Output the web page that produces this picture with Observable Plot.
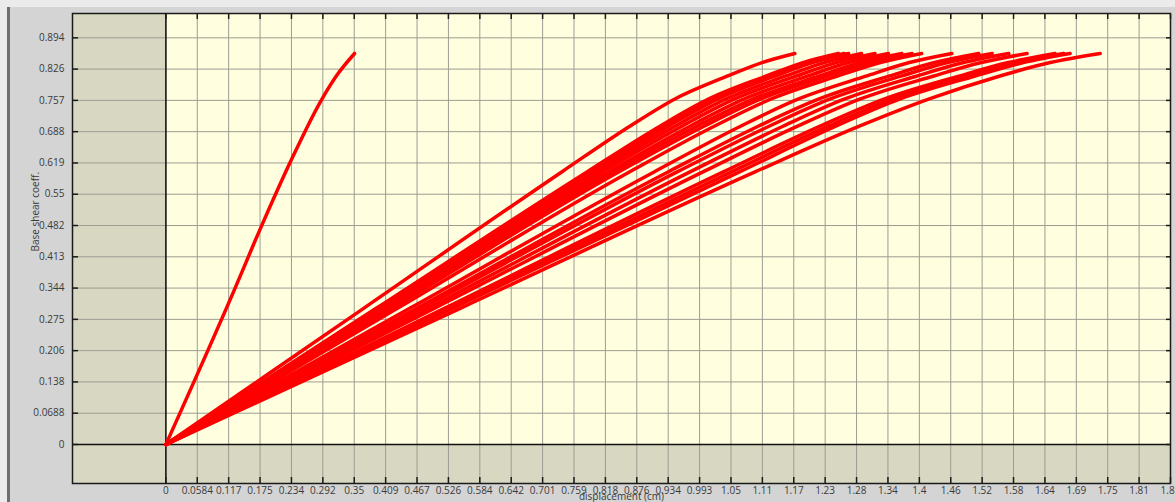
<!DOCTYPE html>
<html>
<head>
<meta charset="utf-8">
<script src="https://cdn.jsdelivr.net/npm/d3@7"></script>
<script src="https://cdn.jsdelivr.net/npm/@observablehq/plot@0.6"></script>
<style>
  html, body { margin: 0; padding: 0; background: #ebebeb; overflow: hidden; }
  #wrap { position: relative; width: 1175px; height: 502px; }
  #panel { position: absolute; left: 7px; top: 7px; right: 0; bottom: 0; background: #d4d4d4; border-left: 3px solid #6e6e6e; }
  #chart { position: absolute; left: 0; top: 0; }
</style>
</head>
<body>
<div id="wrap"><div id="panel"></div><div id="chart"></div></div>
<script>
// ---- axes ----
const xDomain = [-0.1737, 1.8688];
const yDomain = [-0.0858, 0.9479];
const xTicks = [0, 0.0584, 0.1168, 0.1752, 0.2336, 0.292, 0.3504, 0.4088, 0.4672, 0.5256, 0.584, 0.6424, 0.7008, 0.7592, 0.8176, 0.876, 0.9344, 0.9928, 1.0512, 1.1096, 1.168, 1.2264, 1.2848, 1.3432, 1.4016, 1.46, 1.5184, 1.5768, 1.6352, 1.6936, 1.752, 1.8104, 1.8688];
const xTickLabels = ["0","0.0584","0.117","0.175","0.234","0.292","0.35","0.409","0.467","0.526","0.584","0.642","0.701","0.759","0.818","0.876","0.934","0.993","1.05","1.11","1.17","1.23","1.28","1.34","1.4","1.46","1.52","1.58","1.64","1.69","1.75","1.81","1.87"];
const yTicks = [0, 0.0688, 0.1376, 0.2064, 0.2752, 0.344, 0.4128, 0.4816, 0.5504, 0.6192, 0.688, 0.7568, 0.8256, 0.8944];
const yTickLabels = ["0","0.0688","0.138","0.206","0.275","0.344","0.413","0.482","0.55","0.619","0.688","0.757","0.826","0.894"];
const xTitle = "displacement (cm)";
const yTitle = "Base shear coeff.";

// ---- steep curve ----
const steepX = [0, 0.127, 0.177, 0.233, 0.289, 0.318, 0.351];
const steepY = [0, 0.339, 0.478, 0.625, 0.757, 0.812, 0.86];

// ---- bundle of curves: shared base-shear levels, displacement per curve ----
const bundleY = [0, 0.3, 0.6, 0.70, 0.76, 0.81, 0.84, 0.86];
const run00 = [0, 0.3685, 0.737, 0.863, 0.947, 1.044, 1.109, 1.170];
const run01 = [0, 0.392, 0.784, 0.919, 1.010, 1.116, 1.185, 1.251];
const run02 = [0, 0.3945, 0.789, 0.926, 1.018, 1.125, 1.195, 1.262];
const run03 = [0, 0.399, 0.798, 0.935, 1.027, 1.133, 1.203, 1.270];
const run04 = [0, 0.4025, 0.805, 0.947, 1.042, 1.152, 1.225, 1.294];
const run05 = [0, 0.4065, 0.813, 0.960, 1.058, 1.172, 1.247, 1.319];
const run06 = [0, 0.412, 0.824, 0.975, 1.076, 1.193, 1.270, 1.344];
const run07 = [0, 0.4165, 0.833, 0.988, 1.093, 1.214, 1.293, 1.369];
const run08 = [0, 0.4215, 0.843, 1.001, 1.107, 1.230, 1.311, 1.388];
const run09 = [0, 0.4315, 0.863, 1.020, 1.126, 1.249, 1.329, 1.406];
const run10 = [0, 0.4545, 0.909, 1.069, 1.177, 1.302, 1.383, 1.462];
const run11 = [0, 0.4675, 0.935, 1.102, 1.215, 1.345, 1.430, 1.512];
const run12 = [0, 0.476, 0.952, 1.122, 1.236, 1.367, 1.454, 1.537];
const run13 = [0, 0.488, 0.976, 1.148, 1.263, 1.396, 1.484, 1.568];
const run14 = [0, 0.500, 1.000, 1.175, 1.292, 1.427, 1.517, 1.602];
const run15 = [0, 0.519, 1.038, 1.217, 1.337, 1.475, 1.567, 1.654];
const run16 = [0, 0.5265, 1.053, 1.232, 1.352, 1.491, 1.582, 1.670];
const run17 = [0, 0.534, 1.068, 1.246, 1.366, 1.504, 1.595, 1.682];
const run18 = [0, 0.5485, 1.097, 1.290, 1.420, 1.550, 1.645, 1.738];
const runs = [run00, run01, run02, run03, run04, run05, run06, run07, run08, run09, run10, run11, run12, run13, run14, run15, run16, run17, run18];

// ---- styles ----
const olive = "#d8d8c2";
const cream = "#ffffe0";
const gridColor = "#9c9c92";
const red = "#ff0000";

const xLabelMap = new Map(xTicks.map((v, i) => [v, xTickLabels[i]]));
const yLabelMap = new Map(yTicks.map((v, i) => [v, yTickLabels[i]]));

const curveRows = runs.flatMap((xs, i) => xs.map((x, j) => ({x, y: bundleY[j], id: "r" + i})))
  .concat(steepX.map((x, j) => ({x, y: steepY[j], id: "steep"})));

const chart = Plot.plot({
  width: 1175,
  height: 502,
  marginLeft: 72,
  marginRight: 5,
  marginTop: 13,
  marginBottom: 19,
  x: {domain: xDomain, axis: null},
  y: {domain: yDomain, axis: null},
  style: {background: "transparent", fontFamily: "'Open Sans', sans-serif", fontSize: "10px", color: "#3a3a3a", overflow: "visible"},
  marks: [
    Plot.frame({fill: olive}),
    Plot.rect([0], {x1: 0, x2: xDomain[1], y1: 0, y2: yDomain[1], fill: cream}),
    Plot.ruleX(xTicks, {stroke: gridColor, strokeWidth: 1}),
    Plot.ruleY(yTicks, {stroke: gridColor, strokeWidth: 1}),
    Plot.ruleX([0], {stroke: "#111", strokeWidth: 1.5}),
    Plot.ruleY([0], {stroke: "#111", strokeWidth: 1.5}),
    Plot.line(curveRows, {x: "x", y: "y", z: "id", stroke: red, strokeWidth: 3.5, curve: "monotone-x"}),
    Plot.frame({stroke: "#1a1a1a", strokeWidth: 1.5}),
    // inward ticks on all four sides
    Plot.axisY(yTicks, {anchor: "left", tickSize: 6, dx: 6, tickFormat: () => "", label: null, stroke: "#1a1a1a", strokeWidth: 1.5}),
    Plot.axisY(yTicks, {anchor: "right", tickSize: 5, dx: -5, tickFormat: () => "", label: null, stroke: "#1a1a1a", strokeWidth: 1.5}),
    Plot.axisX(xTicks, {anchor: "bottom", tickSize: 6, dy: -6, tickFormat: () => "", label: null, stroke: "#1a1a1a", strokeWidth: 1.5}),
    Plot.axisX(xTicks, {anchor: "top", tickSize: 5, dy: 5, tickFormat: () => "", label: null, stroke: "#1a1a1a", strokeWidth: 1.5}),
    // tick labels
    Plot.axisY(yTicks, {anchor: "left", tickSize: 0, tickPadding: 8, tickFormat: d => yLabelMap.get(d), label: null, fill: "#3a3a3a", fontSize: 10}),
    Plot.axisX(xTicks, {anchor: "bottom", tickSize: 0, tickPadding: 3.5, tickFormat: d => xLabelMap.get(d), label: null, fill: "#3a3a3a", fontSize: 10}),
    // titles
    Plot.text([xTitle], {frameAnchor: "bottom", dy: 13, lineAnchor: "middle", text: d => d, fill: "#3a3a3a", fontSize: 10}),
    Plot.text([yTitle], {frameAnchor: "left", dx: -37, dy: 3, rotate: -90, lineAnchor: "middle", text: d => d, fill: "#3a3a3a", fontSize: 10})
  ]
});
document.getElementById("chart").appendChild(chart);
</script>
</body>
</html>
